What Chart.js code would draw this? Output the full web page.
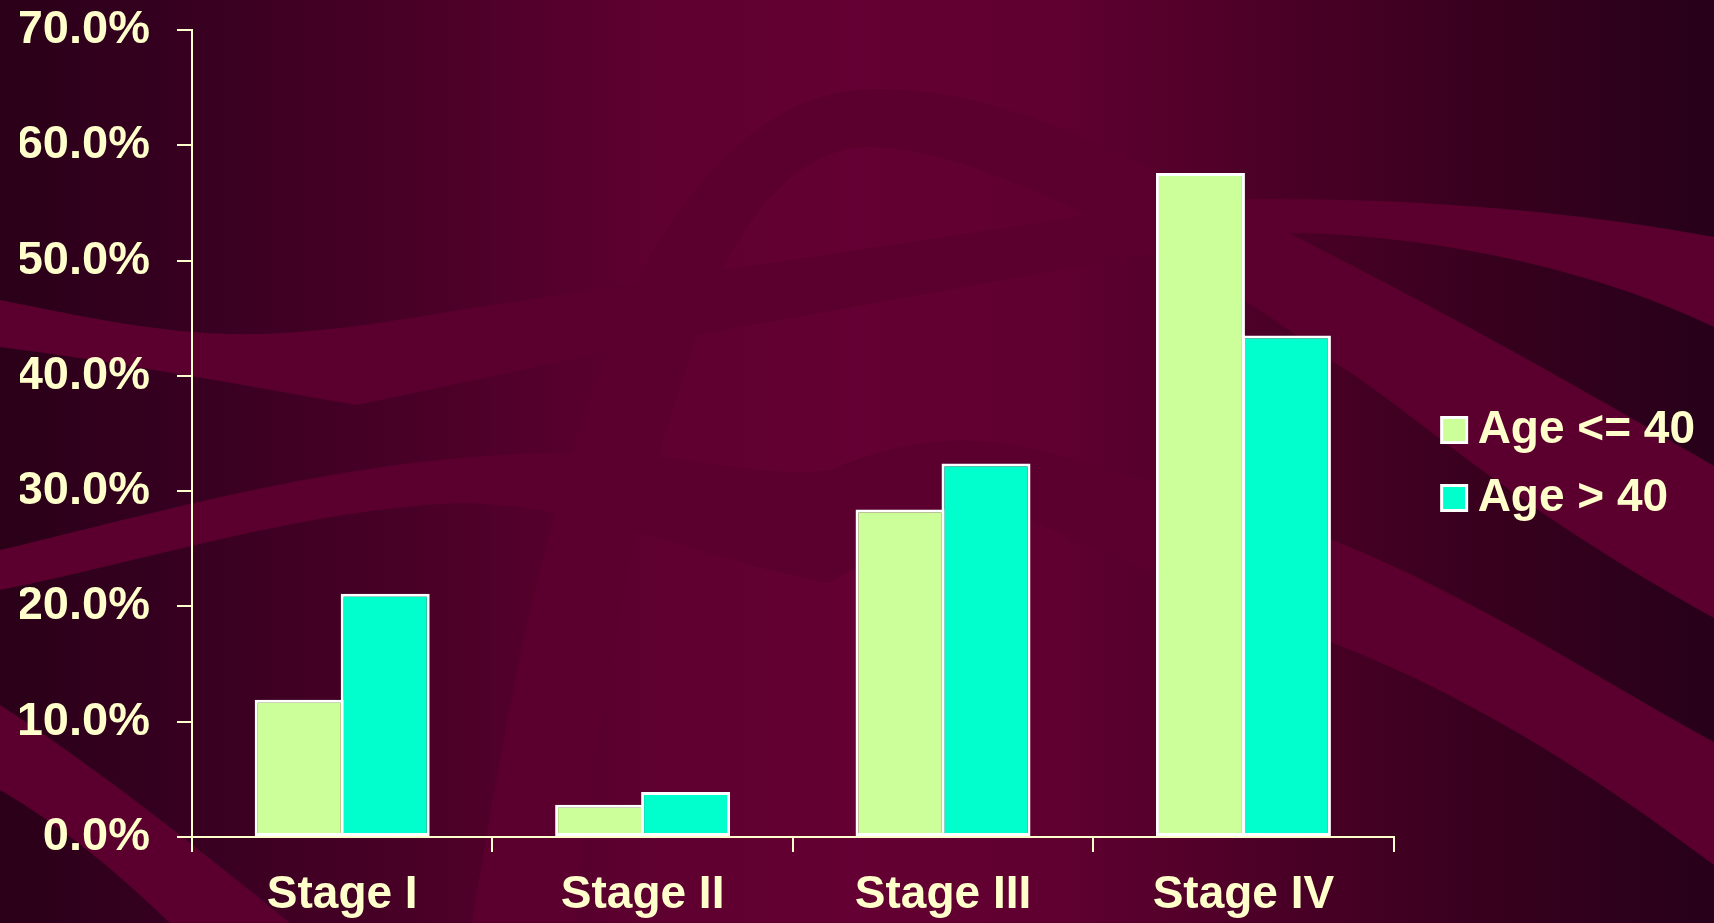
<!DOCTYPE html>
<html>
<head>
<meta charset="utf-8">
<script src="https://cdn.jsdelivr.net/npm/chart.js@4.4.1/dist/chart.umd.min.js"></script>
<style>
  html, body { margin: 0; padding: 0; background: #2a0018; overflow: hidden; }
  #wrap { width: 1714px; height: 923px; }
</style>
</head>
<body>
<div id="wrap"><canvas id="chart" width="1714" height="923"></canvas></div>
<script>
// Share of patients by stage at diagnosis, split by age group (percent)
const stages = ['Stage I', 'Stage II', 'Stage III', 'Stage IV'];
const seriesNames = ['Age <= 40', 'Age > 40'];
const ageUpTo40 = [11.9, 2.8, 28.4, 57.6];
const ageOver40 = [21.1, 3.9, 32.4, 43.5];
const yTicks = [0, 10, 20, 30, 40, 50, 60, 70];

const CREAM = '#ffffcc';
const FONT_FAMILY = '"Liberation Sans", Arial, Helvetica, sans-serif';
const labelFont = { family: FONT_FAMILY, size: 46, weight: 'bold', lineHeight: 1.2 };
// single-line value labels: a compact line height keeps the plot top flush with the 70% tick
const valueFont = { family: FONT_FAMILY, size: 47, weight: 'bold', lineHeight: 0.1 };

// Slide backdrop: maroon gradient with sweeping ribbons
const ribbons = [
  'M0,300 C90,318 170,336 260,334 C330,332 400,320 459,310 L1089,215 C1150,206 1200,200 1260,199 C1420,198 1580,212 1714,237 L1714,327 C1600,272 1450,238 1305,233 C1250,234 1200,245 1156,253 L696,335 L602,353 L357,405 C240,385 120,362 0,347 Z',
  'M472,923 C500,760 530,560 603,360 C650,230 740,100 857,90 C960,82 1060,125 1156,170 C1300,235 1500,340 1714,466 L1714,618 C1500,500 1400,400 1333,362 C1250,300 1170,250 1089,215 C1010,180 940,148 866,147 C790,150 730,230 696,337 C670,420 650,480 638,517 C610,650 590,800 574,923 Z',
  'M0,550 C150,515 350,455 560,453 C700,452 760,480 830,470 C900,440 960,432 1040,450 C1150,480 1250,510 1333,540 C1480,600 1600,680 1714,742 L1714,865 C1600,780 1480,700 1333,643 C1220,600 1120,560 1030,520 C960,495 900,540 830,583 C700,560 600,505 459,503 C300,510 150,560 0,590 Z',
  'M0,705 C100,770 200,850 290,923 L170,923 C115,870 60,825 0,790 Z'
];

const backdrop = {
  id: 'backdrop',
  beforeDraw(chart) {
    const { ctx, width, height } = chart;
    ctx.save();
    const g = ctx.createLinearGradient(0, 0, width, 0);
    g.addColorStop(0.00, '#2a0018');
    g.addColorStop(0.10, '#360020');
    g.addColorStop(0.25, '#4a0027');
    g.addColorStop(0.38, '#5e0030');
    g.addColorStop(0.50, '#640033');
    g.addColorStop(0.62, '#5f0030');
    g.addColorStop(0.75, '#4a0026');
    g.addColorStop(0.88, '#36001d');
    g.addColorStop(1.00, '#27001a');
    ctx.fillStyle = g;
    ctx.fillRect(0, 0, width, height);
    ctx.fillStyle = '#5b002e';
    ribbons.forEach(d => ctx.fill(new Path2D(d)));
    ctx.restore();
  }
};

new Chart(document.getElementById('chart'), {
  type: 'bar',
  data: {
    labels: stages,
    datasets: [
      {
        label: seriesNames[0],
        data: ageUpTo40,
        backgroundColor: '#ccff99',
        borderColor: '#ffffff',
        borderWidth: 3,
        borderSkipped: false
      },
      {
        label: seriesNames[1],
        data: ageOver40,
        backgroundColor: '#00ffcc',
        borderColor: '#ffffff',
        borderWidth: 3,
        borderSkipped: false
      }
    ]
  },
  options: {
    responsive: false,
    animation: false,
    devicePixelRatio: 1,
    barPercentage: 1.035,
    categoryPercentage: 0.5724,
    layout: { padding: { left: 20, top: 30, right: 9, bottom: 0 } },
    plugins: {
      tooltip: { enabled: false },
      legend: {
        position: 'right',
        align: 'start',
        // empty title used only as a spacer above the legend entries
        title: { display: true, text: '', font: { size: 1, lineHeight: 1 }, padding: { top: 177, bottom: 177 } },
        labels: {
          color: CREAM,
          font: labelFont,
          usePointStyle: true,
          pointStyle: 'rect',
          boxWidth: 1,
          boxHeight: 25,
          padding: 22
        }
      }
    },
    scales: {
      x: {
        grid: { display: true, drawOnChartArea: false, drawTicks: true, tickLength: 15, color: CREAM, lineWidth: 2, offset: true },
        border: { display: true, color: CREAM, width: 2 },
        ticks: { color: CREAM, font: labelFont, padding: 16, maxRotation: 0 },
        afterFit(scale) { scale.height = 86; }
      },
      y: {
        min: yTicks[0],
        max: yTicks[yTicks.length - 1],
        afterBuildTicks(scale) { scale.ticks = yTicks.map(v => ({ value: v })); },
        grid: { display: true, drawOnChartArea: false, drawTicks: true, tickLength: 15, color: CREAM, lineWidth: 2 },
        border: { display: true, color: CREAM, width: 2 },
        ticks: {
          color: CREAM,
          font: valueFont,
          padding: 27,
          callback: v => Number(v).toFixed(1) + '%'
        },
        afterFit(scale) { scale.width = 172; }
      },
      gap: {
        position: 'right',
        display: true,
        grid: { display: false },
        border: { display: false },
        ticks: { display: false },
        afterFit(scale) { scale.width = 38; }
      }
    }
  },
  plugins: [backdrop]
});
</script>
</body>
</html>
